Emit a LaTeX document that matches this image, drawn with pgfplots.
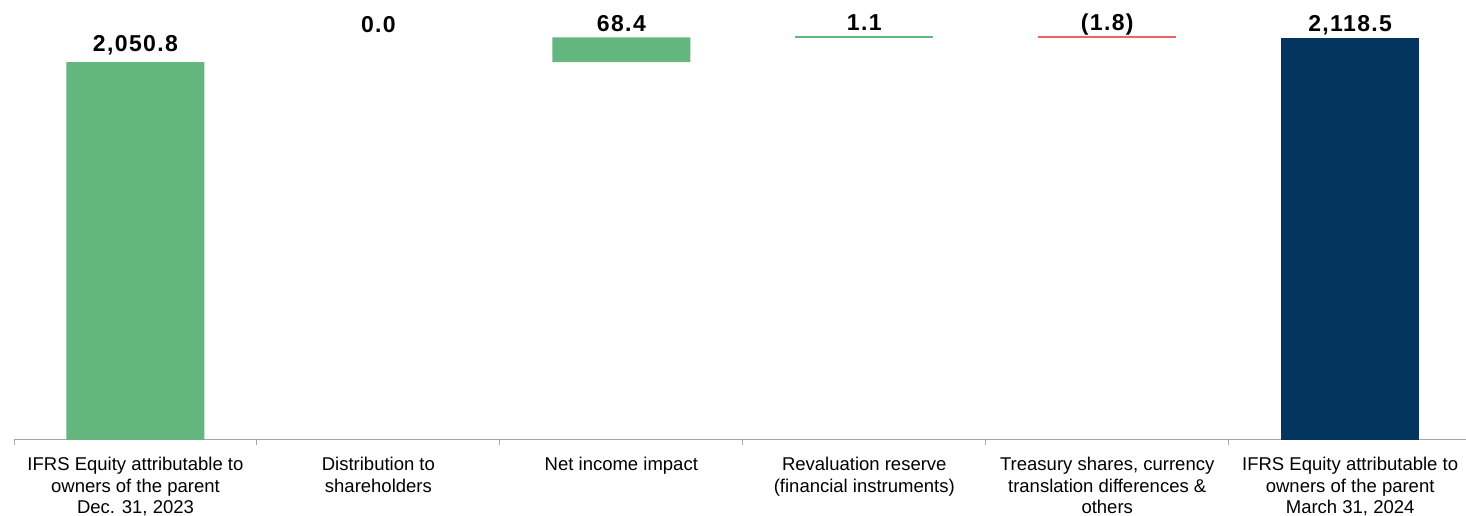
\documentclass[border=0pt]{standalone}
\usepackage{pgfplots}
\pgfplotsset{compat=1.18}
\usepackage{fontspec}
\setmainfont{Liberation Sans}
\newfontfamily\valfont[LetterSpace=6]{Liberation Sans}
\definecolor{eqgreen}{RGB}{98,182,126}
\definecolor{eqnavy}{RGB}{4,53,94}
\definecolor{eqred}{RGB}{232,100,106}
\definecolor{axgray}{RGB}{166,166,166}
\begin{document}
\begin{tikzpicture}
\pgfplotsset{common/.style={scale only axis, width=1452pt, height=440pt,
  xmin=-0.5, xmax=5.477, ymin=1000, ymax=2223.2, at={(0,0)}, anchor=south west}}
\begin{axis}[common, ybar stacked, bar width=138pt,
  axis x line=bottom, hide y axis,
  x axis line style={-, draw=axgray, line width=1pt},
  xtick={0,1,2,3,4,5}, major tick length=0pt,
  minor xtick={-0.5,0.5,1.5,2.5,3.5,4.5}, minor tick length=5pt, tick align=outside,
  minor tick style={draw=axgray, line width=1pt},
  xticklabels={{IFRS Equity attributable to\\owners of the parent\\Dec. 31, 2023},
    {Distribution to\\shareholders},
    {Net income impact},
    {Revaluation reserve\\(financial instruments)},
    {Treasury shares, currency\\translation differences \&\\others},
    {IFRS Equity attributable to\\owners of the parent\\March 31, 2024}},
  xticklabel style={align=center, font=\fontsize{18.5}{21.3}\selectfont, anchor=north, yshift=-14pt}]
\addplot[draw=none, fill=none] coordinates {(0,0) (1,2050.8) (2,2050.8) (3,2119.2) (4,2118.5) (5,0)};
\addplot[draw=none, fill=eqgreen] coordinates {(0,2050.8) (1,0) (2,68.4) (3,1.1) (4,0) (5,0)};
\addplot[draw=none, fill=eqred] coordinates {(0,0) (1,0) (2,0) (3,0) (4,1.8) (5,0)};
\addplot[draw=none, fill=eqnavy] coordinates {(0,0) (1,0) (2,0) (3,0) (4,0) (5,2118.5)};
\end{axis}
\begin{axis}[common, hide axis, clip=false]
\addplot[eqgreen, line width=2pt] coordinates {(2.716,2120.3) (3.284,2120.3)};
\addplot[eqred, line width=2pt] coordinates {(3.716,2120.3) (4.284,2120.3)};
\begin{scope}[every node/.style={anchor=base, font=\valfont\fontsize{23}{26}\selectfont\bfseries}]
\node at (axis cs:0,2080.1) {2,050.8};
\node at (axis cs:1,2131.5) {0.0};
\node at (axis cs:2,2135.7) {68.4};
\node at (axis cs:3,2137) {1.1};
\node at (axis cs:4,2137) {(1.8)};
\node at (axis cs:5,2134.3) {2,118.5};
\end{scope}
\end{axis}
\pgfresetboundingbox
\path[use as bounding box] (-14pt,-76pt) rectangle (1452pt,440pt);
\end{tikzpicture}
\end{document}
